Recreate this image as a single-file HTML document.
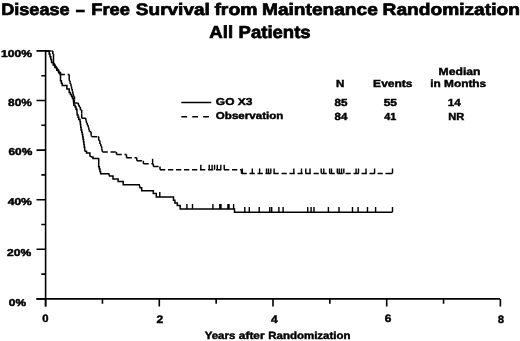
<!DOCTYPE html>
<html><head><meta charset="utf-8"><style>
html,body{margin:0;padding:0;background:#fff;width:520px;height:341px;overflow:hidden}
svg{display:block;filter:blur(0.3px)}
</style></head><body>
<svg width="520" height="341" viewBox="0 0 520 341" style="text-rendering:geometricPrecision">
<g fill="none" stroke="#000" stroke-linecap="butt">
<path d="M45.6,50 V306.4" stroke-width="1.6"/>
<path d="M36.5,298.9 H500" stroke-width="1.9"/>
<path d="M36.5,298.90 H45.6 M41.3,274.10 H45.6 M36.5,249.30 H45.6 M41.3,224.50 H45.6 M36.5,199.70 H45.6 M41.3,174.90 H45.6 M36.5,150.10 H45.6 M41.3,125.30 H45.6 M36.5,100.50 H45.6 M41.3,75.70 H45.6 M36.5,50.90 H45.6" stroke-width="1.6"/>
<path d="M45.60,298.9 V306.4 M102.45,298.9 V303.8 M159.30,298.9 V306.4 M216.15,298.9 V303.8 M273.00,298.9 V306.4 M329.85,298.9 V303.8 M386.70,298.9 V306.4 M443.55,298.9 V303.8 M500.40,298.9 V306.4" stroke-width="1.6"/>
<path d="M45.60,51.00 L48.40,51.00 L49.20,51.00 L49.20,53.88 L50.00,53.88 L50.00,56.75 L50.80,56.75 L50.80,59.62 L51.60,59.62 L51.60,62.50 L53.20,62.50 L53.20,65.00 L55.00,65.00 L55.00,67.60 L56.80,67.60 L56.80,70.20 L58.60,70.20 L58.60,72.80 L60.50,72.80 L60.50,80.70 L61.35,80.70 L61.35,83.15 L62.20,83.15 L62.20,85.60 L65.70,85.60 L66.90,85.60 L66.90,88.90 L69.20,88.90 L69.20,92.40 L70.40,92.40 L70.40,94.45 L71.60,94.45 L71.60,96.50 L72.50,96.50 L72.50,98.55 L73.40,98.55 L73.40,100.60 L73.90,105.30 L75.10,105.30 L75.10,107.10 L76.00,107.10 L76.00,109.15 L76.90,109.15 L76.90,111.20 L77.30,115.00 L78.05,115.00 L78.05,117.20 L78.80,117.20 L78.80,119.40 L80.00,119.40 L80.00,121.70 L80.37,121.70 L80.37,124.43 L80.73,124.43 L80.73,127.17 L81.10,127.17 L81.10,129.90 L81.70,129.90 L81.70,132.25 L82.30,132.25 L82.30,134.60 L82.70,134.60 L82.70,136.97 L83.10,136.97 L83.10,139.33 L83.50,139.33 L83.50,141.70 L83.90,141.70 L83.90,144.43 L84.30,144.43 L84.30,147.17 L84.70,147.17 L84.70,149.90 L85.20,151.30 L86.50,151.30 L86.50,153.00 L89.00,153.00 L89.90,153.00 L89.90,156.10 L92.00,157.00 L93.00,157.00 L93.00,158.60 L98.70,158.60 L98.70,166.70 L99.33,166.70 L99.33,169.07 L99.97,169.07 L99.97,171.43 L100.60,171.43 L100.60,173.80 L108.80,173.80 L109.50,176.00 L113.00,176.00 L113.00,179.00 L118.10,179.00 L118.10,181.50 L123.20,181.50 L123.20,184.70 L139.30,184.70 L140.00,187.70 L141.70,187.70 L141.70,190.80 L152.30,190.80 L153.30,190.80 L153.30,193.50 L155.20,193.50 L156.30,193.50 L156.30,197.10 L172.50,197.10 L173.50,197.10 L173.50,200.20 L174.90,200.20 L174.90,203.10 L177.30,203.10 L177.30,205.50 L180.20,205.50 L180.20,209.00 L234.50,209.00 L234.50,212.30 L392.50,212.30" stroke-width="1.5"/>
<path d="M45.6,51.0 L51.3,51.0" stroke-width="1.5" stroke-dasharray="5.3,2.7"/>
<path d="M51.3,51.0 L52.8,51.0" stroke-width="1.5" stroke-dasharray="5.3,2.7"/>
<path d="M52.8,51.0 L52.8,53.9" stroke-width="1.5"/>
<path d="M52.8,53.9 L53.5,53.9" stroke-width="1.5" stroke-dasharray="5.3,2.7"/>
<path d="M53.5,53.9 L53.5,63.2" stroke-width="1.5"/>
<path d="M53.5,63.2 L54.4,63.2" stroke-width="1.5" stroke-dasharray="5.3,2.7"/>
<path d="M54.4,63.2 L54.4,66.2" stroke-width="1.5"/>
<path d="M54.4,66.2 L56.2,66.2" stroke-width="1.5" stroke-dasharray="5.3,2.7"/>
<path d="M56.2,66.2 L56.2,68.8" stroke-width="1.5"/>
<path d="M56.2,68.8 L58.0,68.8" stroke-width="1.5" stroke-dasharray="5.3,2.7"/>
<path d="M58.0,68.8 L58.0,71.4" stroke-width="1.5"/>
<path d="M58.0,71.4 L59.6,71.4" stroke-width="1.5" stroke-dasharray="5.3,2.7"/>
<path d="M59.6,71.4 L59.6,74.4" stroke-width="1.5"/>
<path d="M59.6,74.4 L69.2,74.4" stroke-width="1.5" stroke-dasharray="5.3,2.7"/>
<path d="M69.2,74.4 L69.2,80.7" stroke-width="1.5"/>
<path d="M69.2,80.7 L70.1,80.7" stroke-width="1.5" stroke-dasharray="5.3,2.7"/>
<path d="M70.1,80.7 L70.1,83.65" stroke-width="1.5"/>
<path d="M70.1,83.65 L71.0,83.65" stroke-width="1.5" stroke-dasharray="5.3,2.7"/>
<path d="M71.0,83.65 L71.0,86.6" stroke-width="1.5"/>
<path d="M71.0,86.6 L71.6,86.6" stroke-width="1.5" stroke-dasharray="5.3,2.7"/>
<path d="M71.6,86.6 L71.6,88.9" stroke-width="1.5"/>
<path d="M71.6,88.9 L72.2,88.9" stroke-width="1.5" stroke-dasharray="5.3,2.7"/>
<path d="M72.2,88.9 L72.2,91.2" stroke-width="1.5"/>
<path d="M72.2,91.2 L72.8,91.2" stroke-width="1.5" stroke-dasharray="5.3,2.7"/>
<path d="M72.8,91.2 L72.8,93.85" stroke-width="1.5"/>
<path d="M72.8,93.85 L73.4,93.85" stroke-width="1.5" stroke-dasharray="5.3,2.7"/>
<path d="M73.4,93.85 L73.4,96.5" stroke-width="1.5"/>
<path d="M73.4,96.5 L74.5,96.5" stroke-width="1.5" stroke-dasharray="5.3,2.7"/>
<path d="M74.5,96.5 L74.5,99.5" stroke-width="1.5"/>
<path d="M74.5,99.5 L74.0,103.0" stroke-width="1.5"/>
<path d="M74.0,103.0 L77.5,103.0" stroke-width="1.5" stroke-dasharray="5.3,2.7"/>
<path d="M77.5,103.0 L78.35,103.0" stroke-width="1.5" stroke-dasharray="5.3,2.7"/>
<path d="M78.35,103.0 L78.35,105.05" stroke-width="1.5"/>
<path d="M78.35,105.05 L79.2,105.05" stroke-width="1.5" stroke-dasharray="5.3,2.7"/>
<path d="M79.2,105.05 L79.2,107.1" stroke-width="1.5"/>
<path d="M79.2,107.1 L80.4,107.1" stroke-width="1.5" stroke-dasharray="5.3,2.7"/>
<path d="M80.4,107.1 L80.4,110.0" stroke-width="1.5"/>
<path d="M80.4,110.0 L81.7,110.0" stroke-width="1.5" stroke-dasharray="5.3,2.7"/>
<path d="M81.7,110.0 L81.7,113.5" stroke-width="1.5"/>
<path d="M81.7,113.5 L81.7,118.2" stroke-width="1.5"/>
<path d="M81.7,118.2 L85.2,118.2" stroke-width="1.5" stroke-dasharray="5.3,2.7"/>
<path d="M85.2,118.2 L85.8,118.2" stroke-width="1.5" stroke-dasharray="5.3,2.7"/>
<path d="M85.8,118.2 L85.8,120.55" stroke-width="1.5"/>
<path d="M85.8,120.55 L86.4,120.55" stroke-width="1.5" stroke-dasharray="5.3,2.7"/>
<path d="M86.4,120.55 L86.4,122.9" stroke-width="1.5"/>
<path d="M86.4,122.9 L87.3,122.9" stroke-width="1.5" stroke-dasharray="5.3,2.7"/>
<path d="M87.3,122.9 L87.3,125.25" stroke-width="1.5"/>
<path d="M87.3,125.25 L88.2,125.25" stroke-width="1.5" stroke-dasharray="5.3,2.7"/>
<path d="M88.2,125.25 L88.2,127.6" stroke-width="1.5"/>
<path d="M88.2,127.6 L88.8,127.6" stroke-width="1.5" stroke-dasharray="5.3,2.7"/>
<path d="M88.8,127.6 L88.8,129.65" stroke-width="1.5"/>
<path d="M88.8,129.65 L89.4,129.65" stroke-width="1.5" stroke-dasharray="5.3,2.7"/>
<path d="M89.4,129.65 L89.4,131.7" stroke-width="1.5"/>
<path d="M89.4,131.7 L91.1,131.7" stroke-width="1.5" stroke-dasharray="5.3,2.7"/>
<path d="M91.1,131.7 L91.1,135.2" stroke-width="1.5"/>
<path d="M91.1,135.2 L91.7,136.7" stroke-width="1.5"/>
<path d="M91.7,136.7 L97.6,136.7" stroke-width="1.5" stroke-dasharray="5.3,2.7"/>
<path d="M97.6,136.7 L98.7,136.7" stroke-width="1.5" stroke-dasharray="5.3,2.7"/>
<path d="M98.7,136.7 L98.7,140.5" stroke-width="1.5"/>
<path d="M98.7,140.5 L99.9,140.5" stroke-width="1.5" stroke-dasharray="5.3,2.7"/>
<path d="M99.9,140.5 L99.9,144.0" stroke-width="1.5"/>
<path d="M99.9,144.0 L100.8,144.0" stroke-width="1.5" stroke-dasharray="5.3,2.7"/>
<path d="M100.8,144.0 L100.8,146.35" stroke-width="1.5"/>
<path d="M100.8,146.35 L101.7,146.35" stroke-width="1.5" stroke-dasharray="5.3,2.7"/>
<path d="M101.7,146.35 L101.7,148.7" stroke-width="1.5"/>
<path d="M101.7,148.7 L102.5,151.9" stroke-width="1.5"/>
<path d="M102.5,151.9 L116.5,151.9" stroke-width="1.5" stroke-dasharray="5.3,2.7"/>
<path d="M116.5,151.9 L116.5,154.6" stroke-width="1.5"/>
<path d="M116.5,154.6 L126.5,154.6" stroke-width="1.5" stroke-dasharray="5.3,2.7"/>
<path d="M126.5,154.6 L126.5,157.8" stroke-width="1.5"/>
<path d="M126.5,157.8 L136.8,157.8" stroke-width="1.5" stroke-dasharray="5.3,2.7"/>
<path d="M136.8,157.8 L136.8,160.8" stroke-width="1.5"/>
<path d="M136.8,160.8 L143.4,160.8" stroke-width="1.5" stroke-dasharray="5.3,2.7"/>
<path d="M143.4,160.8 L143.4,163.8" stroke-width="1.5"/>
<path d="M143.4,163.8 L153.3,163.8" stroke-width="1.5" stroke-dasharray="5.3,2.7"/>
<path d="M153.3,163.8 L153.3,166.5" stroke-width="1.5"/>
<path d="M153.3,166.5 L160.0,166.5" stroke-width="1.5" stroke-dasharray="5.3,2.7"/>
<path d="M160.0,166.5 L160.0,169.7" stroke-width="1.5"/>
<path d="M160.0,169.7 L241.5,169.7" stroke-width="1.5" stroke-dasharray="5.3,2.7"/>
<path d="M241.5,169.7 L241.5,173.5" stroke-width="1.5"/>
<path d="M241.5,173.5 L387.0,173.5" stroke-width="1.5" stroke-dasharray="5.3,2.7"/>
<path d="M387.0,173.5 L392.5,173.5" stroke-width="1.5" stroke-dasharray="5.3,2.7"/>
<path d="M159.8,197.1 V192.1 M186.9,209 V204 M192.5,209 V204 M212.9,209 V204 M219.8,209 V204 M221,209 V204 M227.9,209 V204 M229,209 V204 M233.6,209 V204 M244.8,212.1 V207.1 M249.3,212.1 V207.1 M259.2,212.1 V207.1 M269.8,212.1 V207.1 M271.7,212.1 V207.1 M278.9,212.1 V207.1 M283.1,212.1 V207.1 M307.7,212.1 V207.1 M311.1,212.1 V207.1 M314,212.1 V207.1 M328.4,212.1 V207.1 M339,212.1 V207.1 M352.5,212.1 V207.1 M358.1,212.1 V207.1 M367.5,212.1 V207.1 M375.6,212.1 V207.1 M392.5,212.1 V207.1" stroke-width="1.4"/>
<path d="M152.6,163.8 V158.8 M200.8,169.7 V164.7 M209.2,169.7 V164.7 M212.1,169.7 V164.7 M214.6,169.7 V164.7 M217.3,169.7 V164.7 M220.8,169.7 V164.7 M224.2,169.7 V164.7 M242.3,173.5 V168.5 M252.3,173.5 V168.5 M259.6,173.5 V168.5 M266.5,173.5 V168.5 M268.5,173.5 V168.5 M270.8,173.5 V168.5 M274.1,173.5 V168.5 M293.8,173.5 V168.5 M301.5,173.5 V168.5 M305.8,173.5 V168.5 M310,173.5 V168.5 M321.2,173.5 V168.5 M323.8,173.5 V168.5 M329.6,173.5 V168.5 M331.5,173.5 V168.5 M337.3,173.5 V168.5 M339.2,173.5 V168.5 M341.5,173.5 V168.5 M343.8,173.5 V168.5 M356.1,173.5 V168.5 M358.5,173.5 V168.5 M366,173.5 V168.5 M374.6,173.5 V168.5 M392.5,173.5 V168.5" stroke-width="1.4"/>
<path d="M181.3,102.5 H211.3" stroke-width="1.5"/>
<path d="M181.3,116.7 H209" stroke-width="1.6" stroke-dasharray="5.8,5.1"/>
</g>
<g fill="#000" font-family="Liberation Sans, sans-serif" font-weight="bold">
<text x="1.20" y="15.35" font-size="16.6" textLength="68.46" lengthAdjust="spacingAndGlyphs" stroke="#000" stroke-width="0.7">Disease</text>
<text x="91.24" y="15.35" font-size="16.6" textLength="38.64" lengthAdjust="spacingAndGlyphs" stroke="#000" stroke-width="0.7">Free</text>
<text x="135.88" y="15.35" font-size="16.6" textLength="73.94" lengthAdjust="spacingAndGlyphs" stroke="#000" stroke-width="0.7">Survival</text>
<text x="214.40" y="15.35" font-size="16.6" textLength="43.11" lengthAdjust="spacingAndGlyphs" stroke="#000" stroke-width="0.7">from</text>
<text x="261.98" y="15.35" font-size="16.6" textLength="115.80" lengthAdjust="spacingAndGlyphs" stroke="#000" stroke-width="0.7">Maintenance</text>
<text x="382.58" y="15.35" font-size="16.6" textLength="137.30" lengthAdjust="spacingAndGlyphs" stroke="#000" stroke-width="0.7">Randomization</text>
<text x="209.32" y="38.15" font-size="17.4" textLength="23.75" lengthAdjust="spacingAndGlyphs" stroke="#000" stroke-width="0.7">All</text>
<text x="238.57" y="37.95" font-size="17.4" textLength="72.11" lengthAdjust="spacingAndGlyphs" stroke="#000" stroke-width="0.7">Patients</text>
<text x="1.12" y="56.55" font-size="10.0" textLength="30.96" lengthAdjust="spacingAndGlyphs" stroke="#000" stroke-width="0.5">100%</text>
<text x="8.08" y="106.38" font-size="10.3" textLength="23.76" lengthAdjust="spacingAndGlyphs" stroke="#000" stroke-width="0.45">80%</text>
<text x="8.47" y="155.45" font-size="10.0" textLength="23.85" lengthAdjust="spacingAndGlyphs" stroke="#000" stroke-width="0.5">60%</text>
<text x="7.71" y="204.95" font-size="10.0" textLength="24.12" lengthAdjust="spacingAndGlyphs" stroke="#000" stroke-width="0.5">40%</text>
<text x="7.09" y="255.65" font-size="10.0" textLength="24.04" lengthAdjust="spacingAndGlyphs" stroke="#000" stroke-width="0.5">20%</text>
<text x="8.87" y="305.95" font-size="10.0" textLength="17.18" lengthAdjust="spacingAndGlyphs" stroke="#000" stroke-width="0.5">0%</text>
<text x="42.21" y="321.77" font-size="10.8" textLength="6.30" lengthAdjust="spacingAndGlyphs" stroke="#000" stroke-width="0.45">0</text>
<text x="156.48" y="322.77" font-size="10.8" textLength="6.76" lengthAdjust="spacingAndGlyphs" stroke="#000" stroke-width="0.45">2</text>
<text x="271.10" y="322.77" font-size="10.8" textLength="6.69" lengthAdjust="spacingAndGlyphs" stroke="#000" stroke-width="0.45">4</text>
<text x="384.88" y="322.07" font-size="10.8" textLength="6.64" lengthAdjust="spacingAndGlyphs" stroke="#000" stroke-width="0.45">6</text>
<text x="497.93" y="322.57" font-size="10.8" textLength="5.95" lengthAdjust="spacingAndGlyphs" stroke="#000" stroke-width="0.45">8</text>
<text x="204.81" y="338.78" font-size="10.4" textLength="30.48" lengthAdjust="spacingAndGlyphs" stroke="#000" stroke-width="0.45">Years</text>
<text x="238.88" y="338.78" font-size="10.4" textLength="25.65" lengthAdjust="spacingAndGlyphs" stroke="#000" stroke-width="0.45">after</text>
<text x="268.35" y="338.78" font-size="10.4" textLength="82.12" lengthAdjust="spacingAndGlyphs" stroke="#000" stroke-width="0.45">Randomization</text>
<text x="215.85" y="105.08" font-size="10.0" textLength="36.57" lengthAdjust="spacingAndGlyphs" stroke="#000" stroke-width="0.45">GO X3</text>
<text x="215.86" y="119.18" font-size="10.0" textLength="67.46" lengthAdjust="spacingAndGlyphs" stroke="#000" stroke-width="0.45">Observation</text>
<text x="438.60" y="75.18" font-size="10.3" textLength="41.86" lengthAdjust="spacingAndGlyphs" stroke="#000" stroke-width="0.45">Median</text>
<text x="335.94" y="87.38" font-size="10.3" textLength="8.37" lengthAdjust="spacingAndGlyphs" stroke="#000" stroke-width="0.45">N</text>
<text x="373.11" y="87.48" font-size="10.3" textLength="39.43" lengthAdjust="spacingAndGlyphs" stroke="#000" stroke-width="0.45">Events</text>
<text x="430.22" y="87.48" font-size="10.3" textLength="55.95" lengthAdjust="spacingAndGlyphs" stroke="#000" stroke-width="0.45">in Months</text>
<text x="334.59" y="105.58" font-size="10.3" textLength="12.98" lengthAdjust="spacingAndGlyphs" stroke="#000" stroke-width="0.45">85</text>
<text x="383.68" y="105.58" font-size="10.3" textLength="13.30" lengthAdjust="spacingAndGlyphs" stroke="#000" stroke-width="0.45">55</text>
<text x="447.84" y="105.68" font-size="10.3" textLength="13.00" lengthAdjust="spacingAndGlyphs" stroke="#000" stroke-width="0.45">14</text>
<text x="334.59" y="119.58" font-size="10.3" textLength="12.75" lengthAdjust="spacingAndGlyphs" stroke="#000" stroke-width="0.45">84</text>
<text x="384.22" y="119.68" font-size="10.3" textLength="12.03" lengthAdjust="spacingAndGlyphs" stroke="#000" stroke-width="0.45">41</text>
<text x="448.17" y="119.68" font-size="10.3" textLength="16.00" lengthAdjust="spacingAndGlyphs" stroke="#000" stroke-width="0.45">NR</text>
<rect x="75.9" y="9.7" width="8.8" height="2.6"/>
</g>
</svg>
</body></html>
